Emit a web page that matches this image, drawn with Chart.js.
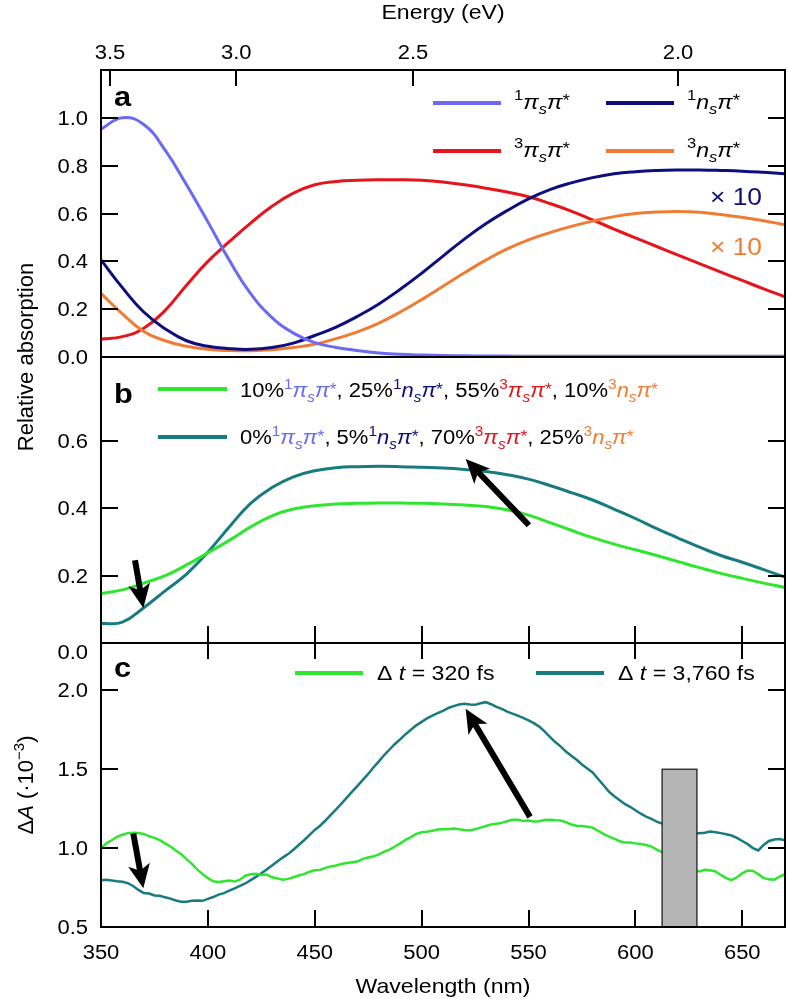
<!DOCTYPE html>
<html lang="en">
<head>
<meta charset="UTF-8">
<title>Absorption spectra</title>
<script src="https://cdn.jsdelivr.net/npm/chart.js"></script>
<style>
  body { margin: 0; background: #fff; }
  #wrap { position: relative; width: 788px; height: 999px; }
  #wrap canvas { position: absolute; left: 0; top: 0; }
</style>
</head>
<body>
<div id="wrap">
  <canvas id="panelA" width="788" height="999"></canvas>
  <canvas id="panelB" width="788" height="999"></canvas>
  <canvas id="panelC" width="788" height="999"></canvas>
</div>
<script>
// ---- data (wavelength in nm) ----
const wavelengths = [350, 360, 370, 380, 390, 400, 410, 420, 430, 440, 450, 460, 470, 480, 490, 500,
  510, 520, 530, 540, 550, 560, 570, 580, 590, 600, 610, 620, 630, 640, 650, 660, 670];

// panel a: calculated state spectra (n-pi* curves shown x10)
const pipiSinglet = [0.953, 1.0, 0.972, 0.865, 0.72, 0.565, 0.405, 0.265, 0.165, 0.10, 0.06, 0.04, 0.027,
  0.017, 0.011, 0.008, 0.006, 0.005, 0.004, 0.004, 0.003, 0.003, 0.003, 0.003, 0.003, 0.003, 0.003,
  0.003, 0.003, 0.003, 0.003, 0.003, 0.003];
const pipiTriplet = [0.074, 0.085, 0.12, 0.195, 0.30, 0.40, 0.482, 0.56, 0.63, 0.685, 0.72, 0.734, 0.739,
  0.741, 0.741, 0.739, 0.732, 0.72, 0.706, 0.69, 0.67, 0.642, 0.61, 0.573, 0.535, 0.498, 0.462, 0.426,
  0.39, 0.355, 0.32, 0.285, 0.252];
const npiSinglet = [0.406, 0.29, 0.188, 0.118, 0.068, 0.045, 0.035, 0.032, 0.04, 0.058, 0.09, 0.125, 0.17,
  0.222, 0.283, 0.35, 0.422, 0.493, 0.557, 0.612, 0.661, 0.70, 0.728, 0.75, 0.766, 0.775, 0.78, 0.782,
  0.782, 0.78, 0.777, 0.772, 0.766];
const npiTriplet = [0.266, 0.18, 0.107, 0.068, 0.045, 0.032, 0.027, 0.026, 0.03, 0.04, 0.053, 0.077, 0.105,
  0.142, 0.188, 0.24, 0.296, 0.352, 0.405, 0.452, 0.49, 0.52, 0.546, 0.568, 0.587, 0.60, 0.606, 0.608,
  0.605, 0.596, 0.584, 0.57, 0.553];

// panel b: mixtures of the four states
const mixEarly = [0.147, 0.158, 0.178, 0.20, 0.232, 0.268, 0.305, 0.345, 0.378, 0.398, 0.408, 0.413, 0.415,
  0.416, 0.416, 0.415, 0.413, 0.41, 0.406, 0.396, 0.38, 0.358, 0.335, 0.313, 0.294, 0.277, 0.26, 0.242,
  0.224, 0.207, 0.192, 0.178, 0.165];
const mixLate = [0.058, 0.062, 0.105, 0.155, 0.205, 0.27, 0.345, 0.415, 0.462, 0.494, 0.512, 0.521, 0.524,
  0.525, 0.524, 0.522, 0.52, 0.516, 0.51, 0.50, 0.487, 0.468, 0.447, 0.425, 0.398, 0.37, 0.34, 0.312,
  0.285, 0.26, 0.24, 0.218, 0.196];

// panel c: measured transient absorption (units of 1e-3)
const probeWl = [
  350, 352.5, 355, 357.5, 360, 362.5, 365, 367.5, 370, 372.5,
  375, 377.5, 380, 382.5, 385, 387.5, 390, 392.5, 395, 397.5,
  400, 402.5, 405, 407.5, 410, 412.5, 415, 417.5, 420, 422.5,
  425, 427.5, 430, 432.5, 435, 437.5, 440, 442.5, 445, 447.5,
  450, 452.5, 455, 457.5, 460, 462.5, 465, 467.5, 470, 472.5,
  475, 477.5, 480, 482.5, 485, 487.5, 490, 492.5, 495, 497.5,
  500, 502.5, 505, 507.5, 510, 512.5, 515, 517.5, 520, 522.5,
  525, 527.5, 530, 532.5, 535, 537.5, 540, 542.5, 545, 547.5,
  550, 552.5, 555, 557.5, 560, 562.5, 565, 567.5, 570, 572.5,
  575, 577.5, 580, 582.5, 585, 587.5, 590, 592.5, 595, 597.5,
  600, 602.5, 605, 607.5, 610, 612.5, 615, 617.5, 620, 622.5,
  625, 627.5, 630, 632.5, 635, 637.5, 640, 642.5, 645, 647.5,
  650, 652.5, 655, 657.5, 660, 662.5, 665, 667.5, 670];
const dA320 = [
  1.00, 1.03, 1.05, 1.072, 1.085, 1.095, 1.098, 1.096, 1.09, 1.075,
  1.065, 1.05, 1.03, 1.01, 0.985, 0.962, 0.93, 0.90, 0.865, 0.835,
  0.81, 0.79, 0.785, 0.79, 0.795, 0.788, 0.80, 0.825, 0.835, 0.838,
  0.83, 0.832, 0.815, 0.808, 0.80, 0.805, 0.815, 0.826, 0.835, 0.85,
  0.86, 0.862, 0.875, 0.884, 0.89, 0.90, 0.905, 0.91, 0.915, 0.932,
  0.94, 0.948, 0.96, 0.978, 0.99, 1.01, 1.03, 1.052, 1.07, 1.09,
  1.10, 1.104, 1.11, 1.118, 1.12, 1.12, 1.125, 1.12, 1.115, 1.112,
  1.12, 1.13, 1.14, 1.15, 1.155, 1.16, 1.17, 1.18, 1.18, 1.172,
  1.175, 1.168, 1.17, 1.178, 1.18, 1.176, 1.175, 1.165, 1.15, 1.142,
  1.14, 1.136, 1.13, 1.11, 1.09, 1.075, 1.06, 1.045, 1.035, 1.035,
  1.03, 1.026, 1.02, 1.01, 0.99, 0.975, 0.96, 0.94, 0.92, 0.90,
  0.88, 0.86, 0.852, 0.862, 0.86, 0.852, 0.83, 0.81, 0.797, 0.815,
  0.84, 0.858, 0.855, 0.835, 0.81, 0.802, 0.80, 0.82, 0.835];
const dA3760 = [
  0.797, 0.80, 0.795, 0.79, 0.787, 0.778, 0.76, 0.735, 0.715, 0.712,
  0.70, 0.698, 0.688, 0.68, 0.668, 0.66, 0.66, 0.666, 0.668, 0.666,
  0.678, 0.69, 0.705, 0.715, 0.73, 0.745, 0.76, 0.776, 0.797, 0.818,
  0.84, 0.865, 0.89, 0.915, 0.94, 0.962, 0.99, 1.02, 1.05, 1.082,
  1.115, 1.142, 1.175, 1.21, 1.245, 1.282, 1.32, 1.358, 1.395, 1.432,
  1.47, 1.512, 1.55, 1.59, 1.625, 1.66, 1.69, 1.722, 1.75, 1.778,
  1.80, 1.822, 1.84, 1.855, 1.87, 1.888, 1.90, 1.91, 1.915, 1.91,
  1.908, 1.918, 1.925, 1.912, 1.895, 1.882, 1.865, 1.852, 1.84, 1.826,
  1.81, 1.792, 1.77, 1.74, 1.705, 1.672, 1.645, 1.612, 1.585, 1.56,
  1.53, 1.505, 1.48, 1.44, 1.40, 1.36, 1.33, 1.305, 1.28, 1.262,
  1.24, 1.218, 1.20, 1.185, 1.168, 1.155, 1.14, 1.128, 1.115, 1.105,
  1.10, 1.095, 1.094, 1.098, 1.105, 1.10, 1.095, 1.088, 1.08, 1.065,
  1.045, 1.025, 1.00, 0.985, 1.02, 1.045, 1.055, 1.058, 1.05];
const blockedBand = [612.5, 628.8];   // grey box (nm)
const blockedTop = 1.5;

// arrows: [fromWl, fromVal, toWl, toVal]
const arrowsB = [[365.9, 0.246, 369.8, 0.104], [550.2, 0.35, 520.6, 0.547]];
const arrowsC = [[365.1, 1.093, 369.8, 0.745], [550.7, 1.198, 520.6, 1.884]];

// axes
const energyTicks = [3.5, 3.0, 2.5, 2.0];
const wavelengthTicks = [350, 400, 450, 500, 550, 600, 650];
const ticksA = [0, 0.2, 0.4, 0.6, 0.8, 1.0];
const ticksB = [0, 0.2, 0.4, 0.6];
const ticksC = [0.5, 1.0, 1.5, 2.0];

// ---- styling ----
const C = {
  pipi1: '#6a6af2', npi1: '#0d0d7c', pipi3: '#e8141c', npi3: '#f07c34',
  early: '#2fe62f', late: '#177b80'
};
const FONT = '"Liberation Sans", Arial, Helvetica, sans-serif';
const TICK = 17;
const SX = 1.1;   // horizontal text stretch seen in the original figure

const pts = (xs, ys) => xs.map((x, i) => ({ x: x, y: ys[i] }));

function fontFor(mode, size, bold) {
  let s = size;
  if (mode === 'sup' || mode === 'sub' || mode === 'isub') s = Math.round(size * 0.7);
  if (mode === 'star') s = Math.round(size * 0.8);
  return (mode === 'i' || mode === 'isub' ? 'italic ' : '') + (bold ? 'bold ' : '') + s + 'px ' + FONT;
}

// parts: [text, color, mode]; draws on the alphabetic baseline y
function richText(ctx, x, y, parts, size, align, sx, bold) {
  sx = sx || SX;
  const w = parts.map(p => { ctx.font = fontFor(p[2], size, bold); return ctx.measureText(p[0]).width; });
  const total = w.reduce((a, b) => a + b, 0) * sx;
  const x0 = align === 'center' ? x - total / 2 : align === 'right' ? x - total : x;
  ctx.save();
  ctx.translate(x0, y);
  ctx.scale(sx, 1);
  ctx.textAlign = 'left';
  ctx.textBaseline = 'alphabetic';
  let cx = 0;
  parts.forEach((p, i) => {
    ctx.font = fontFor(p[2], size, bold);
    ctx.fillStyle = p[1] || '#000';
    let dy = 0;
    if (p[2] === 'sup') dy = -size * 0.42;
    if (p[2] === 'sub' || p[2] === 'isub') dy = size * 0.25;
    if (p[2] === 'star') dy = -size * 0.12;
    ctx.fillText(p[0], cx, dy);
    cx += w[i];
  });
  ctx.restore();
}

const plain = (ctx, t, x, y, size, align) => richText(ctx, x, y, [[t, '#000', '']], size, align);

function state(mult, kind, color) {
  return [[mult, color, 'sup'], [kind, color, 'i'], ['s', color, 'isub'], ['\u03c0', color, 'i'], ['*', color, 'star']];
}

function drawArrow(ctx, x0, y0, x1, y1) {
  const ang = Math.atan2(y1 - y0, x1 - x0);
  const len = Math.hypot(x1 - x0, y1 - y0);
  const head = 24, half = 11, notch = 6;
  ctx.save();
  ctx.translate(x1, y1);
  ctx.rotate(ang);
  ctx.fillStyle = '#000';
  ctx.strokeStyle = '#000';
  ctx.lineWidth = 6;
  ctx.beginPath(); ctx.moveTo(-len, 0); ctx.lineTo(-head + notch + 2, 0); ctx.stroke();
  ctx.beginPath(); ctx.moveTo(0, 0); ctx.lineTo(-head, -half); ctx.lineTo(-head + notch, 0);
  ctx.lineTo(-head, half); ctx.closePath(); ctx.fill();
  ctx.restore();
}

function frameAndTicks(chart, yTicks, labelShift) {
  const { ctx, chartArea: a, scales: { y } } = chart;
  ctx.save();
  ctx.strokeStyle = '#000';
  ctx.lineWidth = 2;
  ctx.strokeRect(a.left, a.top, a.right - a.left, a.bottom - a.top);
  ctx.beginPath();
  yTicks.forEach(v => {
    const py = Math.round(y.getPixelForValue(v));
    if (py <= a.top + 2 || py >= a.bottom - 2) return;
    ctx.moveTo(a.left, py); ctx.lineTo(a.left + TICK, py);
    ctx.moveTo(a.right, py); ctx.lineTo(a.right - TICK, py);
  });
  ctx.stroke();
  yTicks.forEach(v => {
    const py = y.getPixelForValue(v) + ((labelShift || {})[v] || 0);
    plain(ctx, v.toFixed(1), a.left - 13, py + 7, 20, 'right');
  });
  ctx.restore();
}

function xTicks(chart, atBottom, atTop) {
  const { ctx, chartArea: a, scales: { x } } = chart;
  ctx.save();
  ctx.strokeStyle = '#000';
  ctx.lineWidth = 2;
  ctx.beginPath();
  wavelengthTicks.forEach(v => {
    const px = Math.round(x.getPixelForValue(v));
    if (px <= a.left + 2 || px >= a.right - 2) return;
    if (atBottom) { ctx.moveTo(px, a.bottom); ctx.lineTo(px, a.bottom - TICK); }
    if (atTop) { ctx.moveTo(px, a.top); ctx.lineTo(px, a.top + TICK - 1); }
  });
  ctx.stroke();
  ctx.restore();
}

function line(data, color, width, smooth) {
  return {
    data: data, borderColor: color, borderWidth: width, fill: false,
    pointRadius: 0, tension: smooth ? 0.45 : 0
  };
}

function makeChart(id, top, bottom, yMin, yMax, datasets, plugin) {
  return new Chart(document.getElementById(id), {
    type: 'line',
    data: { datasets: datasets },
    options: {
      responsive: false,
      animation: false,
      devicePixelRatio: 1,
      layout: { padding: { left: 101, right: 3, top: top, bottom: 999 - bottom } },
      plugins: { legend: { display: false }, tooltip: { enabled: false } },
      scales: {
        x: { type: 'linear', min: 350, max: 670, display: false },
        y: { type: 'linear', min: yMin, max: yMax, display: false }
      }
    },
    plugins: [plugin]
  });
}

// ---- panel a ----
makeChart('panelA', 70, 357, 0, 1.2, [
  line(pts(wavelengths, pipiSinglet), C.pipi1, 3, true),
  line(pts(wavelengths, npiSinglet), C.npi1, 3, true),
  line(pts(wavelengths, npiTriplet), C.npi3, 3, true),
  line(pts(wavelengths, pipiTriplet), C.pipi3, 3, true)
], {
  id: 'decorA',
  afterDraw(chart) {
    const { ctx, chartArea: a, scales: { x } } = chart;
    frameAndTicks(chart, ticksA);
    ctx.save();
    // energy axis on top
    ctx.strokeStyle = '#000'; ctx.lineWidth = 2;
    ctx.beginPath();
    energyTicks.forEach(e => {
      const px = Math.round(x.getPixelForValue(1239.84 / e));
      ctx.moveTo(px, a.top); ctx.lineTo(px, a.top + 16);
    });
    ctx.stroke();
    energyTicks.forEach(e => plain(ctx, e.toFixed(1), x.getPixelForValue(1239.84 / e), 59, 20, 'center'));
    plain(ctx, 'Energy (eV)', (a.left + a.right) / 2, 19, 21, 'center');
    // y title shared by a and b
    ctx.save();
    ctx.translate(33, 357);
    ctx.rotate(-Math.PI / 2);
    richText(ctx, 0, 0, [['Relative absorption', '#000', '']], 22, 'center', 1);
    ctx.restore();
    richText(ctx, 114, 106, [['a', '#000', '']], 28, 'left', SX, true);
    // legend
    const items = [
      [433, 103, C.pipi1, state('1', '\u03c0', '#000')],
      [606, 103, C.npi1, state('1', 'n', '#000')],
      [433, 151, C.pipi3, state('3', '\u03c0', '#000')],
      [606, 151, C.npi3, state('3', 'n', '#000')]
    ];
    items.forEach(([lx, ly, col, parts]) => {
      ctx.strokeStyle = col; ctx.lineWidth = 4;
      ctx.beginPath(); ctx.moveTo(lx, ly); ctx.lineTo(lx + 68, ly); ctx.stroke();
      richText(ctx, lx + 81, ly + 6, parts, 21, 'left');
    });
    richText(ctx, 762, 205, [['\u00d7 10', C.npi1, '']], 24, 'right');
    richText(ctx, 762, 255, [['\u00d7 10', C.npi3, '']], 24, 'right');
    ctx.restore();
  }
});

// ---- panel b ----
makeChart('panelB', 357, 643, 0, 0.85, [
  line(pts(wavelengths, mixEarly), C.early, 3, true),
  line(pts(wavelengths, mixLate), C.late, 3, true)
], {
  id: 'decorB',
  afterDatasetsDraw(chart) {
    const { ctx, scales: { x, y } } = chart;
    arrowsB.forEach(r => drawArrow(ctx, x.getPixelForValue(r[0]), y.getPixelForValue(r[1]),
      x.getPixelForValue(r[2]), y.getPixelForValue(r[3])));
  },
  afterDraw(chart) {
    const { ctx } = chart;
    frameAndTicks(chart, ticksB, { 0: 9 });
    xTicks(chart, true, false);
    ctx.save();
    richText(ctx, 114, 403, [['b', '#000', '']], 28, 'left', SX, true);
    const k = '#000';
    const rows = [
      [389, 397, C.early, [['10%', k, '']].concat(state('1', '\u03c0', C.pipi1), [[', 25%', k, '']],
        state('1', 'n', C.npi1), [[', 55%', k, '']], state('3', '\u03c0', C.pipi3), [[', 10%', k, '']],
        state('3', 'n', C.npi3))],
      [437, 444, C.late, [['0%', k, '']].concat(state('1', '\u03c0', C.pipi1), [[', 5%', k, '']],
        state('1', 'n', C.npi1), [[', 70%', k, '']], state('3', '\u03c0', C.pipi3), [[', 25%', k, '']],
        state('3', 'n', C.npi3))]
    ];
    rows.forEach(([ly, base, col, parts]) => {
      ctx.strokeStyle = col; ctx.lineWidth = 4;
      ctx.beginPath(); ctx.moveTo(158, ly); ctx.lineTo(227, ly); ctx.stroke();
      richText(ctx, 240, base, parts, 20, 'left');
    });
    ctx.restore();
  }
});

// ---- panel c ----
makeChart('panelC', 643, 927, 0.5, 2.3, [
  line(pts(probeWl, dA320), C.early, 2.5, false),
  line(pts(probeWl, dA3760), C.late, 2.5, false)
], {
  id: 'decorC',
  afterDatasetsDraw(chart) {
    const { ctx, scales: { x, y } } = chart;
    ctx.save();
    const x0 = x.getPixelForValue(blockedBand[0]), x1 = x.getPixelForValue(blockedBand[1]);
    const y0 = y.getPixelForValue(blockedTop), y1 = y.getPixelForValue(0.5);
    ctx.fillStyle = '#b4b4b4';
    ctx.fillRect(x0, y0, x1 - x0, y1 - y0);
    ctx.strokeStyle = '#222'; ctx.lineWidth = 1.3;
    ctx.strokeRect(x0, y0, x1 - x0, y1 - y0);
    ctx.restore();
    arrowsC.forEach(r => drawArrow(ctx, x.getPixelForValue(r[0]), y.getPixelForValue(r[1]),
      x.getPixelForValue(r[2]), y.getPixelForValue(r[3])));
  },
  afterDraw(chart) {
    const { ctx, chartArea: a, scales: { x } } = chart;
    frameAndTicks(chart, ticksC);
    xTicks(chart, true, true);
    ctx.save();
    wavelengthTicks.forEach(v => plain(ctx, String(v), x.getPixelForValue(v), 959, 20, 'center'));
    plain(ctx, 'Wavelength (nm)', (a.left + a.right) / 2, 993, 21, 'center');
    ctx.save();
    ctx.translate(33, 785);
    ctx.rotate(-Math.PI / 2);
    richText(ctx, 0, 0, [['\u0394', '#000', ''], ['A', '#000', 'i'], [' (\u00b710', '#000', ''],
      ['\u22123', '#000', 'sup'], [')', '#000', '']], 22, 'center', 1);
    ctx.restore();
    richText(ctx, 114, 677, [['c', '#000', '']], 28, 'left', SX, true);
    const legend = [[295, C.early, ' = 320 fs'], [536, C.late, ' = 3,760 fs']];
    legend.forEach(([lx, col, rest]) => {
      ctx.strokeStyle = col; ctx.lineWidth = 4;
      ctx.beginPath(); ctx.moveTo(lx, 673); ctx.lineTo(lx + 68, 673); ctx.stroke();
      richText(ctx, lx + 82, 680, [['\u0394 ', '#000', ''], ['t', '#000', 'i'], [rest, '#000', '']], 21, 'left');
    });
    ctx.restore();
  }
});
</script>
</body>
</html>
